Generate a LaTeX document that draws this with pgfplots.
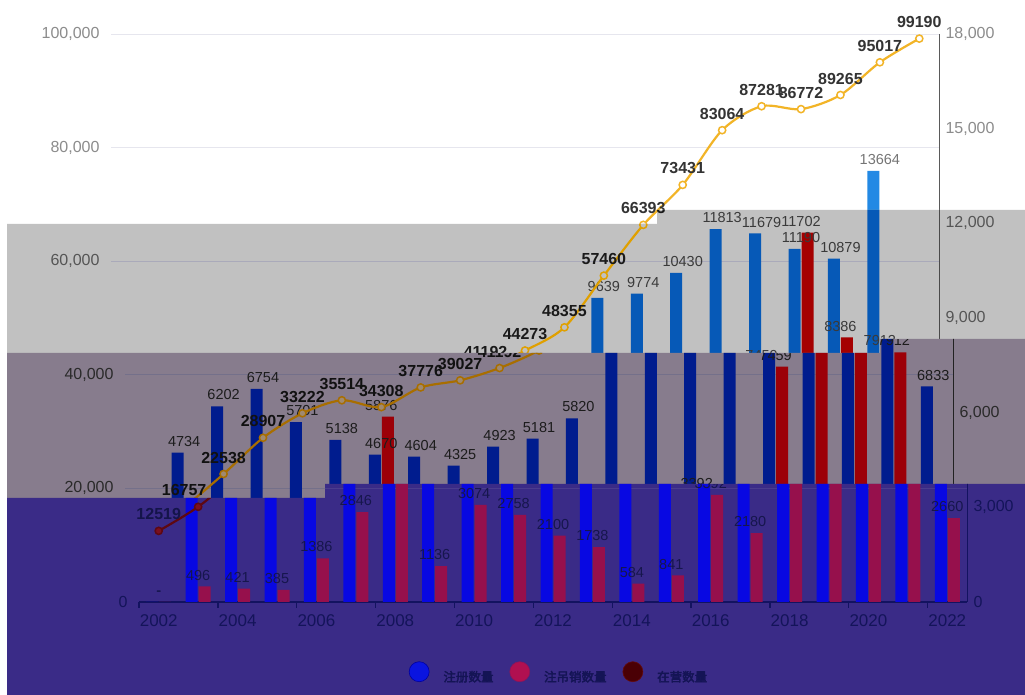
\documentclass[border=0pt]{standalone}
\usepackage{pgfplots}
\pgfplotsset{compat=1.18}
\usepackage{pgfplotstable}
\usepackage{fontspec}
\setmainfont{Liberation Sans}
\newfontfamily\cjk[FakeBold=3]{Noto Sans CJK SC}

% registrations / cancellations per year (right axis)
\pgfplotstableread{
year reg regl can canl
2002 0 - 0 -
2003 4734 4734 496 496
2004 6202 6202 421 421
2005 6754 6754 385 385
2006 5701 5701 1386 1386
2007 5138 5138 2846 2846
2008 4670 4670 5876 5876
2009 4604 4604 1136 1136
2010 4325 4325 3074 3074
2011 4923 4923 2758 2758
2012 5181 5181 2100 2100
2013 5820 5820 1738 1738
2014 9639 9639 584 584
2015 9774 9774 841 841
2016 10430 10430 3392 3392
2017 11813 11813 2180 2180
2018 11679 11679 7459 7459
2019 11190 11190 11702 11702
2020 10879 10879 8386 8386
2021 13664 13664 7912 7912
2022 6833 6833 2660 2660
}\bardata

% firms in operation (left axis)
\pgfplotstableread{
year val lab
2002 12519 12519
2003 16757 16757
2004 22538 22538
2005 28907 28907
2006 33222 33222
2007 35514 35514
2008 34308 34308
2009 37776 37776
2010 39027 39027
2011 41192 41192
2012 44273 44273
2013 48355 48355
2014 57460 57460
2015 66393 66393
2016 73431 73431
2017 83064 83064
2018 87281 87281
2019 86772 86772
2020 89265 89265
2021 95017 95017
2022 99190 99190
}\linedata

\pgfplotsset{
  base/.style={at={(#1pt,93pt)}, anchor=south west, width=828pt, height=568pt,
    scale only axis, xmin=2001.5, xmax=2022.5, clip=false, scaled y ticks=false},
}

\newcommand\chartcopy[1]{%
\begin{axis}[base=#1, ymin=0, ymax=100000, ytick={0,20000,...,100000},
  yticklabels={0,{20,000},{40,000},{60,000},{80,000},{100,000}},
  axis x line*=bottom, axis y line*=left, y axis line style={draw=none},
  ymajorgrids, grid style={cGrid, line width=0.8pt},
  major tick length=0pt,
  xtick={2002,2004,...,2022},
  xticklabels={2002,2004,2006,2008,2010,2012,2014,2016,2018,2020,2022},
  extra x ticks={2001.5,2003.5,...,2021.5}, extra x tick labels={},
  extra x tick style={major tick length=6pt, xtick align=outside,
    tick style={cAxis, line width=1.3pt}},
  x axis line style={cAxis, line width=1.3pt},
  xticklabel style={font=\fontsize{17}{20}\selectfont, text=cXtick, yshift=-9pt},
  yticklabel style={font=\fontsize{16}{19}\selectfont, text=cYtick, xshift=-8pt}]
\end{axis}
\begin{axis}[base=#1, ymin=0, ymax=18000, ytick={0,3000,...,18000},
  yticklabels={0,{3,000},{6,000},{9,000},{12,000},{15,000},{18,000}},
  axis y line*=right, axis x line=none, major tick length=0pt,
  y axis line style={cRaxis, line width=1pt},
  yticklabel style={font=\fontsize{16}{19}\selectfont, text=cYtick, xshift=3pt}]
\addplot[ybar, bar width=12pt, bar shift=-6.5pt, fill=cBlue, draw=none,
  nodes near coords, point meta=explicit symbolic,
  nodes near coords style={font=\fontsize{14.5}{17}\selectfont, text=cBarLab,
    anchor=south, inner sep=0pt, yshift=6pt}]
  table[x=year, y=reg, meta=regl]{\bardata};
\addplot[ybar, bar width=12pt, bar shift=6.5pt, fill=cRed, draw=none,
  nodes near coords, point meta=explicit symbolic,
  nodes near coords style={font=\fontsize{14.5}{17}\selectfont, text=cBarLab,
    anchor=south, inner sep=0pt, yshift=6pt}]
  table[x=year, y=can, meta=canl]{\bardata};
\end{axis}
\begin{axis}[base=#1, ymin=0, ymax=100000, hide axis]
\addplot[cLine, line width=2.2pt, smooth, mark=*, mark size=3.6pt,
  mark options={fill=cMark, draw=cLine, line width=1.5pt},
  nodes near coords, point meta=explicit symbolic,
  nodes near coords style={font=\bfseries\fontsize{16}{19}\selectfont, text=cLineLab,
    anchor=south, inner sep=0pt, yshift=10pt}]
  table[x=year, y=val, meta=lab]{\linedata};
\end{axis}}

\begin{document}
\begin{tikzpicture}[x=1pt, y=1pt]
\useasboundingbox (0,0) rectangle (1025,695);
\fill[white] (0,0) rectangle (1025,695);

% plain part
\begin{scope}
\definecolor{cGrid}{HTML}{E6E6EE}\definecolor{cAxis}{HTML}{6E7079}
\definecolor{cXtick}{HTML}{6E7079}\definecolor{cYtick}{HTML}{8C8C8C}
\definecolor{cRaxis}{HTML}{5A5A5A}\definecolor{cBlue}{HTML}{2389E4}
\definecolor{cRed}{HTML}{C81E1E}\definecolor{cBarLab}{HTML}{757575}
\definecolor{cLine}{HTML}{F2B427}\definecolor{cMark}{HTML}{FFFFFF}
\definecolor{cLineLab}{HTML}{333333}
\chartcopy{111}
\end{scope}

% grey band
\begin{scope}
\clip (7,471)--(657,471)--(657,485)--(1025,485)--(1025,356)--(880,356)--(880,342)--(7,342)--cycle;
\fill[fill={rgb,255:red,193;green,193;blue,193}] (7,471)--(657,471)--(657,485)--(1025,485)--(1025,356)--(880,356)--(880,342)--(7,342)--cycle;
\definecolor{cGrid}{HTML}{AAAABA}\definecolor{cAxis}{HTML}{333333}
\definecolor{cXtick}{HTML}{333333}\definecolor{cYtick}{HTML}{555555}
\definecolor{cRaxis}{HTML}{4A4A4A}\definecolor{cBlue}{HTML}{0659B7}
\definecolor{cRed}{HTML}{A50000}\definecolor{cBarLab}{HTML}{3A3A3A}
\definecolor{cLine}{HTML}{E0A000}\definecolor{cMark}{HTML}{C1C1C1}
\definecolor{cLineLab}{HTML}{1A1A1A}
\chartcopy{111}
\end{scope}

% mauve band
\begin{scope}
\clip (7,342)--(880,342)--(880,356)--(1025,356)--(1025,211)--(325,211)--(325,197)--(7,197)--cycle;
\fill[fill={rgb,255:red,135;green,124;blue,141}] (7,342)--(880,342)--(880,356)--(1025,356)--(1025,211)--(325,211)--(325,197)--(7,197)--cycle;
\definecolor{cGrid}{HTML}{74708A}\definecolor{cAxis}{HTML}{222222}
\definecolor{cXtick}{HTML}{222222}\definecolor{cYtick}{HTML}{2A2A2A}
\definecolor{cRaxis}{HTML}{222222}\definecolor{cBlue}{HTML}{001C8E}
\definecolor{cRed}{HTML}{9C0008}\definecolor{cBarLab}{HTML}{1C1C1C}
\definecolor{cLine}{HTML}{A86E00}\definecolor{cMark}{HTML}{A08A70}
\definecolor{cLineLab}{HTML}{111111}
\chartcopy{125}
\end{scope}

% purple band
\begin{scope}
\clip (7,197)--(325,197)--(325,211)--(1025,211)--(1025,0)--(7,0)--cycle;
\fill[fill={rgb,255:red,58;green,43;blue,135}] (7,197)--(325,197)--(325,211)--(1025,211)--(1025,0)--(7,0)--cycle;
\definecolor{cGrid}{HTML}{4A3C8E}\definecolor{cAxis}{HTML}{131360}
\definecolor{cXtick}{HTML}{14145A}\definecolor{cYtick}{HTML}{14145A}
\definecolor{cRaxis}{HTML}{131360}\definecolor{cBlue}{HTML}{0808E2}
\definecolor{cRed}{HTML}{96104C}\definecolor{cBarLab}{HTML}{16164D}
\definecolor{cLine}{HTML}{5E0812}\definecolor{cMark}{HTML}{7A1020}
\definecolor{cLineLab}{HTML}{14144A}
\chartcopy{139}
\end{scope}

% legend
\begin{axis}[at={(0pt,0pt)}, anchor=south west, width=1025pt, height=695pt,
  scale only axis, hide axis, xmin=0, xmax=1, ymin=0, ymax=1,
  legend columns=3,
  legend image code/.code={\fill[#1] (0pt,4.5pt) circle (10pt);},
  legend style={at={(0.5444,0.0335)}, anchor=center, draw=none, fill=none,
    font=\cjk\fontsize{12.5}{15}\selectfont, text={rgb,255:red,20;green,20;blue,85},
    /tikz/every even column/.append style={column sep=16pt},
    nodes={inner sep=0pt, text depth=0pt}},
  legend cell align=left]
\addlegendimage{fill={rgb,255:red,10;green,20;blue,224}, draw={rgb,255:red,0;green,0;blue,160}, line width=0.6pt}
\addlegendentry{\hspace{14pt}注册数量}
\addlegendimage{fill={rgb,255:red,176;green,16;blue,80}, draw={rgb,255:red,140;green,20;blue,90}, line width=0.6pt}
\addlegendentry{\hspace{14pt}注吊销数量}
\addlegendimage{fill={rgb,255:red,74;green,0;blue,5}, draw={rgb,255:red,100;green,10;blue,10}, line width=0.6pt}
\addlegendentry{\hspace{14pt}在营数量}
\end{axis}
\end{tikzpicture}
\end{document}
